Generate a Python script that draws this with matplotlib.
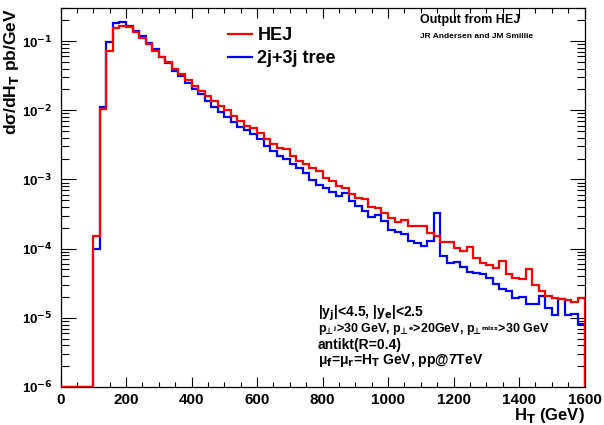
"""
HT distribution: HEJ vs 2j+3j tree level, ROOT-style log histogram.
Output: out.png (604x425)
"""
import numpy as np
import matplotlib
matplotlib.use("Agg")
import matplotlib.pyplot as plt
from matplotlib.ticker import MultipleLocator, LogLocator, FuncFormatter, NullFormatter

# --- data: 20 GeV bins from 0 to 1600 ---
bin_edges = np.arange(0, 1620, 20)

hej = [0, 0, 0, 0, 0, 1.5e-4, 1.03e-2, 7.2e-2, 0.153, 0.167,
       0.158, 0.134, 0.109, 0.0906, 0.0724, 0.0581, 0.049, 0.0393, 0.0333, 0.0275,
       0.0225, 0.0191, 0.0162, 0.0136, 0.0116, 0.0100, 0.0083, 0.0070, 0.0059, 0.0055,
       0.00475, 0.00389, 0.00321, 0.00288, 0.00272, 0.00218, 0.00184, 0.00165, 0.00148, 0.00132,
       1.06e-3, 9.44e-4, 8.0e-4, 7.59e-4, 6.07e-4, 5.43e-4, 5.25e-4, 4.02e-4, 3.89e-4, 3.29e-4,
       2.79e-4, 2.40e-4, 2.57e-4, 2.15e-4, 2.15e-4, 2.09e-4, 1.69e-4, 1.51e-4, 1.23e-4, 1.23e-4,
       1.02e-4, 9.35e-5, 1.045e-4, 7.33e-5, 6.21e-5, 5.86e-5, 5.25e-5, 6.55e-5, 4.30e-5, 3.76e-5,
       3.67e-5, 5.08e-5, 3.01e-5, 2.40e-5, 2.08e-5, 1.93e-5, 1.88e-5, 1.82e-5, 1.67e-5, 1.93e-5]

tree = [0, 0, 0, 0, 0, 1.0e-4, 1.12e-2, 0.098, 0.181, 0.191,
        0.167, 0.141, 0.117, 0.0933, 0.0759, 0.0589, 0.0479, 0.0372, 0.0309, 0.0251,
        0.0200, 0.0170, 0.0138, 0.0110, 0.00955, 0.00794, 0.00676, 0.00575, 0.00513, 0.00457,
        0.00389, 0.00304, 0.00257, 0.00218, 0.00195, 0.00169, 0.00148, 0.00125, 9.77e-4, 8.18e-4,
        7.59e-4, 6.55e-4, 5.73e-4, 6.27e-4, 4.85e-4, 4.10e-4, 3.48e-4, 2.88e-4, 3.11e-4, 2.49e-4,
        1.88e-4, 1.72e-4, 1.60e-4, 1.28e-4, 1.21e-4, 1.08e-4, 1.28e-4, 3.29e-4, 7.73e-5, 6.21e-5,
        6.41e-5, 5.43e-5, 4.54e-5, 4.45e-5, 4.35e-5, 3.76e-5, 3.11e-5, 2.61e-5, 2.46e-5, 1.93e-5,
        2.0e-5, 1.60e-5, 1.60e-5, 2.04e-5, 1.38e-5, 1.10e-5, 1.88e-5, 1.10e-5, 1.14e-5, 8.2e-6]

series_labels = ["HEJ", "2j+3j tree"]

# \bot is U+22A5, which DejaVu has (\perp maps to U+27C2, which it lacks)
cuts_text = [
    r"|y$_j$|<4.5, |y$_e$|<2.5",
    r"p$_{\!\!\bot^{\!j}}$>30 GeV, p$_{\!\!\bot^{\!e}}$>20GeV, p$_{\!\!\bot^{\!miss}}$>30 GeV",
    "antikt(R=0.4)",
    r"μ$_f$=μ$_r$=H$_T$ GeV, pp@7TeV",
]
cuts_size = [10, 9, 10, 10]

YMIN, YMAX = 1e-6, 0.3
C_HEJ = "#ff0000"
C_TREE = "#0000ff"

# Liberation Sans for plain text; math bits (sub/superscripts, perp) in DejaVu bold
plt.rcParams.update({
    "font.family": ["Liberation Sans", "DejaVu Sans"],
    "font.weight": "bold",
    "mathtext.fontset": "custom",
    "mathtext.rm": "DejaVu Sans:bold",
    "mathtext.it": "DejaVu Sans:bold",
    "mathtext.bf": "DejaVu Sans:bold",
    "mathtext.sf": "DejaVu Sans:bold",
})


def log_label(v, pos):
    e = int(round(np.log10(v)))
    return r"10$^{%d}$" % e


def main():
    fig = plt.figure(figsize=(6.04, 4.25), dpi=100)
    ax = fig.add_axes([60.5 / 604, 38 / 425, 524 / 604, 379 / 425])

    # zero bins sit on the axis floor, like ROOT does
    tree_v = np.where(np.array(tree) > 0, tree, YMIN)
    hej_v = np.where(np.array(hej) > 0, hej, YMIN)
    ax.stairs(tree_v, bin_edges, color=C_TREE, lw=1.6, label=series_labels[1], zorder=3)
    ax.stairs(hej_v, bin_edges, color=C_HEJ, lw=1.6, label=series_labels[0], zorder=4)

    ax.set_yscale("log")
    ax.set_xlim(0, 1600)
    ax.set_ylim(YMIN, YMAX)

    # --- ticks, ROOT style: inward on all four sides ---
    ax.xaxis.set_major_locator(MultipleLocator(200))
    ax.xaxis.set_minor_locator(MultipleLocator(50))
    ax.yaxis.set_major_locator(LogLocator(base=10, numticks=12))
    ax.yaxis.set_minor_locator(LogLocator(base=10, subs=np.arange(2, 10), numticks=12))
    ax.yaxis.set_major_formatter(FuncFormatter(log_label))
    ax.yaxis.set_minor_formatter(NullFormatter())
    ax.tick_params(axis="both", which="both", direction="in", top=True, right=True, width=0.8)
    ax.tick_params(axis="x", which="major", length=7, pad=4, labelsize=11)
    ax.tick_params(axis="x", which="minor", length=3.5)
    ax.tick_params(axis="y", which="major", length=11, pad=6, labelsize=9.5)
    ax.tick_params(axis="y", which="minor", length=5.5)
    for lbl in ax.get_xticklabels() + ax.get_yticklabels():
        lbl.set_fontweight("bold")
    for s in ax.spines.values():
        s.set_linewidth(0.9)

    ax.set_xlabel(r"H$_T$ (GeV)", fontsize=12, fontweight="bold", loc="right")
    ax.xaxis.set_label_coords(1.0, -0.049)
    ax.set_ylabel(r"dσ/dH$_T$ pb/GeV", fontsize=12.5, fontweight="bold", loc="top")
    ax.yaxis.set_label_coords(-0.075, 1.0)

    # --- legend ---
    handles, labels = ax.get_legend_handles_labels()
    order = [labels.index(l) for l in series_labels]
    ax.legend([handles[i] for i in order], [labels[i] for i in order],
              loc="upper left", bbox_to_anchor=(0.306, 0.968), frameon=False,
              handlelength=1.3, handletextpad=0.33,
              labelspacing=0.34, borderaxespad=0.0, prop={"weight": "bold", "size": 13})

    # --- top-right credits ---
    ax.text(0.686, 0.968, "Output from HEJ", transform=ax.transAxes,
            ha="left", va="center", fontsize=9, fontweight="bold")
    ax.text(0.686, 0.926, "JR Andersen and JM Smillie", transform=ax.transAxes,
            ha="left", va="center", fontsize=6, fontweight="bold")

    # --- cuts block ---
    for i, (line, fs) in enumerate(zip(cuts_text, cuts_size)):
        ax.text(0.491, 0.195 - i * 0.042, line, transform=ax.transAxes,
                ha="left", va="center", fontsize=fs, fontweight="bold")

    fig.savefig("out.png", dpi=100, facecolor="white")
    plt.close(fig)


if __name__ == "__main__":
    main()
